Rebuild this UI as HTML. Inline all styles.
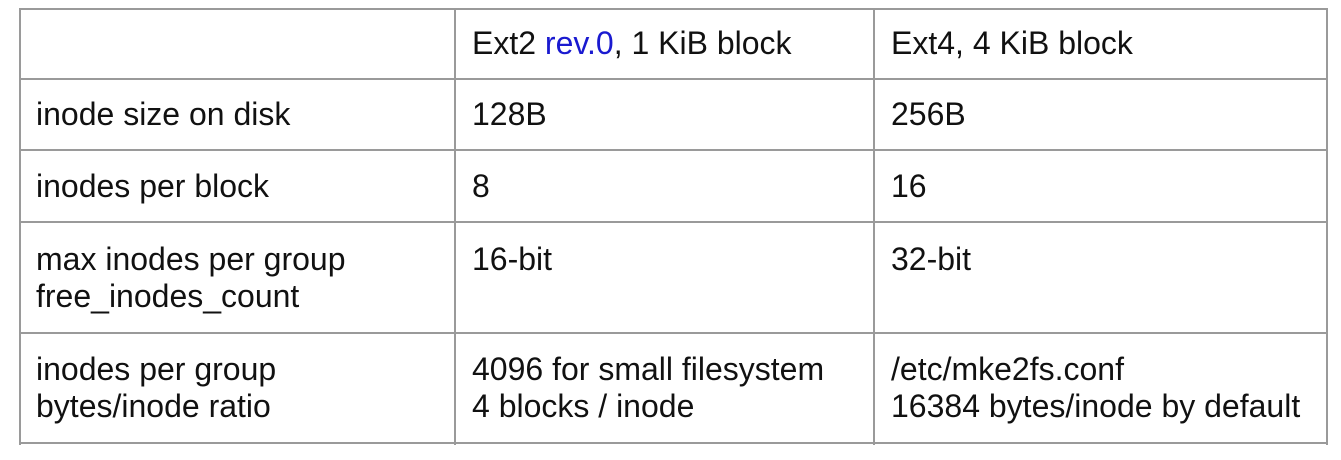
<!DOCTYPE html>
<html><head><style>
body{margin:0;width:1341px;height:460px;background:#fff;position:relative;overflow:hidden;font-family:"Liberation Sans",sans-serif;font-size:32px;color:#111}
.h{position:absolute;left:19px;width:1309px;height:2px;background:#9a9a9a}
.v{position:absolute;top:8px;height:437px;width:2px;background:#9a9a9a}
.t{position:absolute;line-height:37px;white-space:nowrap}
</style></head><body>
<div class="h" style="top:8px"></div>
<div class="h" style="top:78px"></div>
<div class="h" style="top:149px"></div>
<div class="h" style="top:221px"></div>
<div class="h" style="top:332px"></div>
<div class="h" style="top:442px"></div>
<div class="v" style="left:19px"></div>
<div class="v" style="left:454px"></div>
<div class="v" style="left:873px"></div>
<div class="v" style="left:1326px"></div>

<div class="t" style="left:472px;top:25px">Ext2 <span style="color:#1a1ad0">rev.0</span>, 1 KiB block</div>
<div class="t" style="left:891px;top:25px">Ext4, 4 KiB block</div>

<div class="t" style="left:36px;top:96px">inode size on disk</div>
<div class="t" style="left:472px;top:96px">128B</div>
<div class="t" style="left:891px;top:96px">256B</div>

<div class="t" style="left:36px;top:168px">inodes per block</div>
<div class="t" style="left:472px;top:168px">8</div>
<div class="t" style="left:891px;top:168px">16</div>

<div class="t" style="left:36px;top:241px">max inodes per group<br>free_inodes_count</div>
<div class="t" style="left:472px;top:241px">16-bit</div>
<div class="t" style="left:891px;top:241px">32-bit</div>

<div class="t" style="left:36px;top:351px">inodes per group<br>bytes/inode ratio</div>
<div class="t" style="left:472px;top:351px">4096 for small filesystem<br>4 blocks / inode</div>
<div class="t" style="left:891px;top:351px">/etc/mke2fs.conf<br>16384 bytes/inode by default</div>
</body></html>
